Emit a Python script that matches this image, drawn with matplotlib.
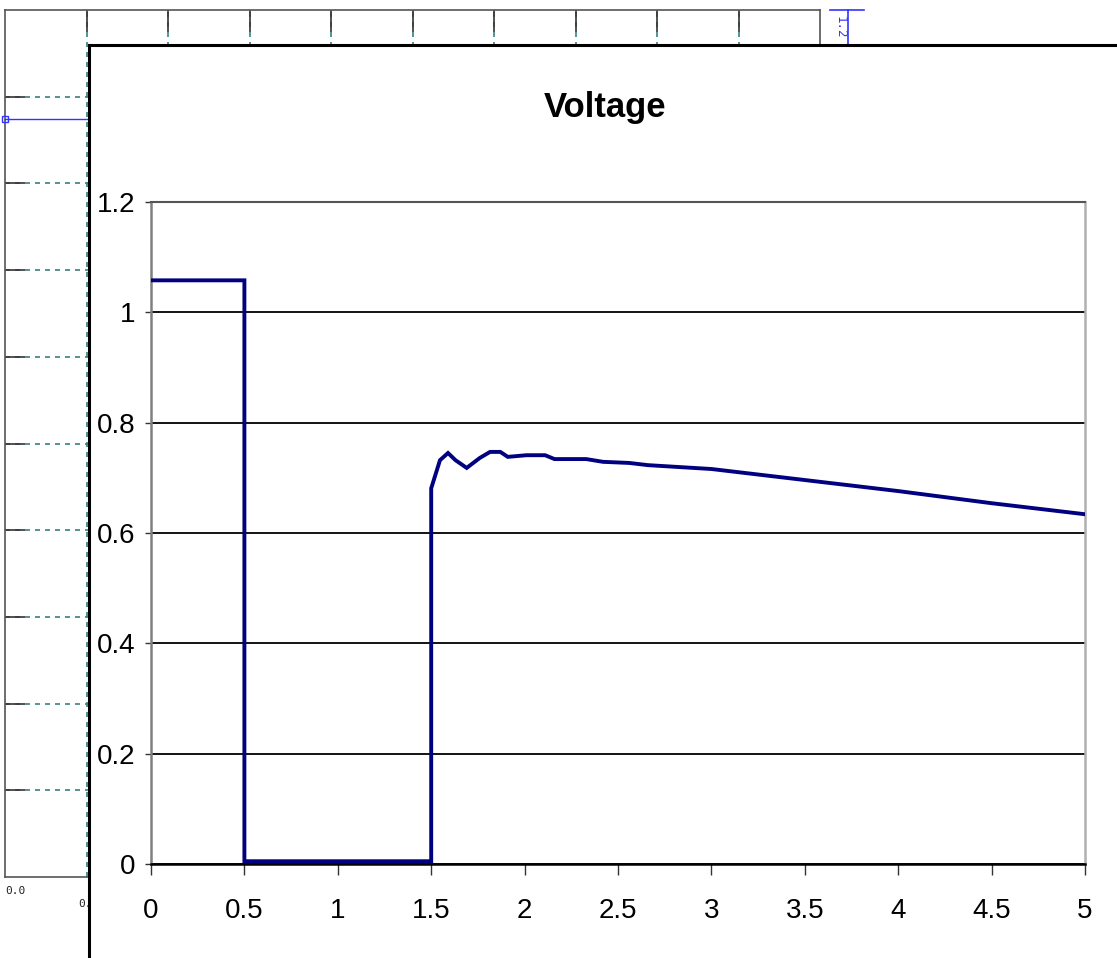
import matplotlib.pyplot as plt
import numpy as np

##############################
# Data
##############################
time_s = [0, 0.5, 0.5, 1.5, 1.5, 1.547, 1.59, 1.63, 1.69, 1.76, 1.815, 1.87,
          1.91, 2.01, 2.11, 2.16, 2.33, 2.42, 2.56, 2.66, 3.0, 3.5, 4.0, 4.5, 5.0]
voltage = [1.058, 1.058, 0.005, 0.005, 0.681, 0.732, 0.745, 0.732, 0.718, 0.736,
           0.747, 0.747, 0.738, 0.741, 0.741, 0.734, 0.734, 0.729, 0.727, 0.723,
           0.716, 0.696, 0.676, 0.654, 0.634]
xticks = [0, 0.5, 1, 1.5, 2, 2.5, 3, 3.5, 4, 4.5, 5]
xlabels = ['0', '0.5', '1', '1.5', '2', '2.5', '3', '3.5', '4', '4.5', '5']
yticks = [0, 0.2, 0.4, 0.6, 0.8, 1.0, 1.2]
ylabels = ['0', '0.2', '0.4', '0.6', '0.8', '1', '1.2']

# background chart (partly hidden behind the front one)
bg_ticks = [1, 2, 3, 4, 5, 6, 7, 8, 9]
bg_line_x = [0, 1]
bg_line_y = [8.74, 8.74]

W, H = 1117, 958
FONT = ['Liberation Sans Narrow', 'Liberation Sans', 'DejaVu Sans']
plt.rcParams['font.family'] = FONT

def box(l, t, r, b):
    # pixel box -> figure fraction [left, bottom, width, height]
    return [l / W, 1 - b / H, (r - l) / W, (b - t) / H]

fig = plt.figure(figsize=(W / 100, H / 100), dpi=100)

########## background chart
bg = fig.add_axes(box(5, 10, 820, 877))
bg.set_xlim(0, 10)
bg.set_ylim(0, 10)
bg.set_xticks(bg_ticks)
bg.set_yticks(bg_ticks)
bg.xaxis.set_ticks_position('top')
bg.tick_params(axis='x', direction='in', length=16, width=1.2, color='#333333',
               labeltop=False, labelbottom=False)
bg.tick_params(axis='y', direction='in', length=14.4, width=1.2, color='#333333',
               labelleft=False)
bg.grid(True, color='#3a8080', linestyle=(0, (3, 3)), linewidth=1.2)
for s in bg.spines.values():
    s.set_color('#555555')
    s.set_linewidth(1.2)
bg.plot(bg_line_x, bg_line_y, color='#3333ff', lw=1.0, marker='s', markevery=[0],
        mfc='none', mec='#3333ff', ms=5, clip_on=False, zorder=5)
# blue label + bracket on the right
bg.text(10.17, 9.93, '1.2', color='#3333ff', rotation=-90, fontsize=9,
        family='DejaVu Sans Mono', ha='left', va='top', clip_on=False)
bg.plot([10.12, 10.54], [10, 10], color='#3333ff', lw=1.2, clip_on=False)
bg.plot([10.34, 10.34], [10, 9.0], color='#3333ff', lw=1.2, clip_on=False)
bg.text(0.0, -0.1, '0.0', fontsize=8, family='DejaVu Sans Mono', color='#222222',
        ha='left', va='top', clip_on=False)
bg.text(0.9, -0.25, '0.', fontsize=8, family='DejaVu Sans Mono', color='#222222',
        ha='left', va='top', clip_on=False)

########## front panel
panel = fig.add_axes(box(88.5, 45, W + 5, H + 5))
panel.set_xticks([])
panel.set_yticks([])
panel.spines['right'].set_visible(False)
panel.spines['bottom'].set_visible(False)
panel.spines['left'].set_linewidth(2.2)
panel.spines['top'].set_linewidth(2.2)
panel.spines['left'].set_color('black')
panel.spines['top'].set_color('black')

fig.text(605 / W, 1 - 107 / H, 'Voltage', fontsize=25, fontweight='bold',
         ha='center', va='center')

########## main plot
ax = fig.add_axes(box(151, 202, 1085, 864))
ax.plot(time_s, voltage, color='#000080', lw=2.8, solid_joinstyle='miter', zorder=3)
ax.set_xlim(0, 5)
ax.set_ylim(0, 1.2)
ax.set_xticks(xticks)
ax.set_xticklabels(xlabels)
ax.set_yticks(yticks)
ax.set_yticklabels(ylabels)
ax.tick_params(axis='x', direction='out', length=8, width=1, pad=16.5,
               labelsize=20, color='#333333')
ax.tick_params(axis='y', direction='out', length=4.5, width=1, pad=7,
               labelsize=20, color='#333333')
ax.yaxis.grid(True, color='black', linewidth=1.3)
ax.set_axisbelow(True)
ax.spines['left'].set_color('#808080')
ax.spines['left'].set_linewidth(1.8)
ax.spines['right'].set_color('#b0b0b0')
ax.spines['right'].set_linewidth(1.8)
ax.spines['top'].set_color('#555555')
ax.spines['top'].set_linewidth(1.5)
ax.spines['bottom'].set_color('black')
ax.spines['bottom'].set_linewidth(1.8)

fig.savefig('out.png', dpi=100)
